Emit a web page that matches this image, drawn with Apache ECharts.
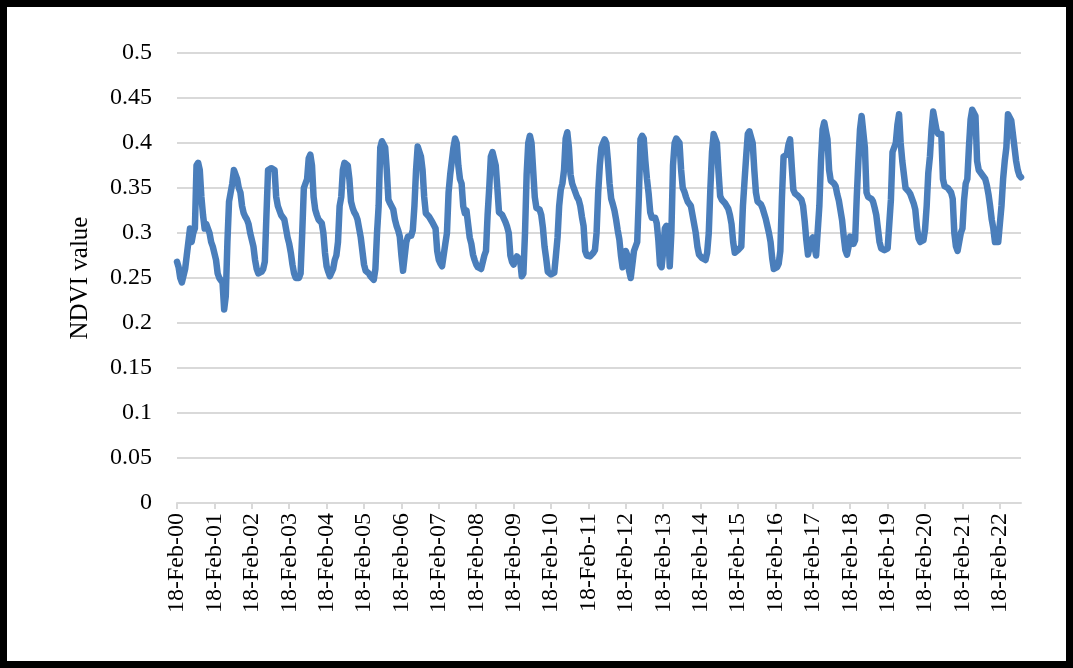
<!DOCTYPE html>
<html><head><meta charset="utf-8">
<script src="https://cdn.jsdelivr.net/npm/echarts@6/dist/echarts.min.js"></script>
<style>html,body{margin:0;padding:0;background:#fff}#c{width:1073px;height:668px}</style>
</head><body><div id="c"></div>
<script>
// NDVI values, 16-day composites, one array per year starting at 18-Feb
const ndvi2000 = [.268,.262,.25,.245,.243,.26,.275,.29,.305,.29,.30,.305,.375,.378,.37,.34,.32,.305,.31,.305,.30,.29,.285];
const ndvi2001 = [.283,.27,.255,.25,.248,.245,.215,.23,.29,.335,.345,.355,.37,.37,.36,.35,.345,.33,.322,.318,.315,.31,.30];
const ndvi2002 = [.30,.285,.27,.26,.255,.255,.257,.26,.268,.32,.37,.372,.372,.372,.37,.34,.33,.325,.32,.318,.315,.305,.295];
const ndvi2003 = [.288,.278,.265,.255,.25,.248,.25,.255,.30,.35,.355,.36,.383,.387,.375,.34,.326,.32,.315,.313,.311,.30,.278];
const ndvi2004 = [.263,.257,.252,.252,.26,.27,.275,.29,.33,.34,.37,.378,.38,.375,.36,.335,.328,.323,.32,.315,.305,.295,.28];
const ndvi2005 = [.265,.258,.257,.255,.252,.25,.248,.26,.30,.33,.395,.402,.402,.395,.37,.337,.333,.332,.326,.315,.308,.303,.296];
const ndvi2006 = [.275,.258,.26,.29,.296,.297,.297,.303,.33,.37,.396,.395,.385,.37,.34,.322,.32,.318,.315,.312,.31,.305,.28];
const ndvi2007 = [.27,.266,.263,.265,.288,.30,.345,.365,.38,.395,.405,.40,.375,.36,.355,.33,.322,.325,.31,.295,.288,.276,.27];
const ndvi2008 = [.265,.262,.26,.26,.26,.275,.28,.32,.35,.385,.39,.388,.375,.35,.323,.322,.32,.318,.312,.307,.30,.275,.268];
const ndvi2009 = [.265,.267,.274,.275,.27,.252,.255,.30,.365,.40,.408,.40,.37,.34,.328,.326,.326,.32,.306,.285,.272,.257,.255];
const ndvi2010 = [.254,.254,.256,.275,.295,.33,.348,.355,.37,.405,.412,.395,.365,.355,.35,.348,.34,.337,.33,.318,.308,.28,.275];
const ndvi2011 = [.273,.274,.275,.278,.281,.30,.345,.375,.395,.40,.404,.40,.38,.355,.338,.332,.325,.315,.303,.293,.275,.262,.265];
const ndvi2012 = [.28,.275,.258,.25,.25,.28,.285,.29,.34,.404,.408,.405,.38,.36,.344,.323,.317,.318,.317,.311,.292,.265,.262];
const ndvi2013 = [.28,.305,.308,.305,.263,.30,.375,.40,.405,.407,.40,.37,.35,.346,.34,.335,.333,.33,.32,.31,.30,.285,.276];
const ndvi2014 = [.274,.272,.27,.27,.278,.30,.35,.39,.41,.41,.40,.368,.341,.337,.336,.333,.33,.327,.32,.31,.29,.278,.278];
const ndvi2015 = [.281,.283,.285,.33,.358,.385,.41,.413,.413,.40,.37,.345,.335,.333,.332,.328,.322,.316,.308,.30,.29,.272,.26];
const ndvi2016 = [.259,.262,.266,.28,.34,.385,.386,.387,.398,.404,.375,.348,.344,.342,.341,.339,.337,.33,.313,.292,.276,.276,.292];
const ndvi2017 = [.295,.285,.275,.276,.33,.38,.415,.423,.424,.404,.37,.358,.356,.355,.352,.343,.336,.325,.314,.296,.281,.276,.285];
const ndvi2018 = [.296,.292,.288,.292,.34,.38,.415,.43,.43,.395,.345,.34,.34,.338,.335,.328,.32,.305,.29,.283,.281,.281,.282];
const ndvi2019 = [.283,.31,.337,.39,.392,.40,.42,.432,.40,.38,.365,.35,.348,.346,.343,.341,.333,.326,.307,.294,.29,.29,.292];
const ndvi2020 = [.304,.33,.367,.385,.415,.435,.435,.415,.41,.412,.41,.36,.352,.35,.35,.348,.345,.338,.30,.285,.28,.29,.30];
const ndvi2021 = [.305,.337,.355,.36,.396,.426,.437,.437,.43,.38,.37,.368,.365,.363,.36,.353,.343,.33,.315,.305,.29,.29,.29];
const ndvi2022 = [.29,.33,.36,.38,.395,.432,.432,.425,.41,.395,.38,.37,.364,.362];

const values = [].concat(ndvi2000, ndvi2001, ndvi2002, ndvi2003, ndvi2004, ndvi2005, ndvi2006, ndvi2007,
  ndvi2008, ndvi2009, ndvi2010, ndvi2011, ndvi2012, ndvi2013, ndvi2014, ndvi2015, ndvi2016, ndvi2017,
  ndvi2018, ndvi2019, ndvi2020, ndvi2021, ndvi2022);

const months = ['Jan','Feb','Mar','Apr','May','Jun','Jul','Aug','Sep','Oct','Nov','Dec'];
// category dates: MODIS 16-day composite start days (DOY 1, 17, ..., 353), from 18-Feb-2000
const categories = [];
for (let y = 2000; categories.length < values.length; y++) {
  for (let doy = 1; doy <= 353 && categories.length < values.length; doy += 16) {
    if (y === 2000 && doy < 49) continue;
    const d = new Date(Date.UTC(y, 0, doy));
    categories.push(d.getUTCDate() + '-' + months[d.getUTCMonth()] + '-' + String(y).slice(2));
  }
}

const font = '"Liberation Serif", "Times New Roman", serif';
const chart = echarts.init(document.getElementById('c'), null, {renderer: 'canvas'});
chart.setOption({
  animation: false,
  backgroundColor: '#fff',
  grid: {left: 177, right: 52, top: 53, bottom: 165},
  graphic: [{
    type: 'rect', shape: {x: 3.5, y: 3.5, width: 1066, height: 661},
    style: {fill: 'none', stroke: '#000', lineWidth: 7}, z: 100
  }],
  xAxis: {
    type: 'category', data: categories, boundaryGap: false,
    axisLine: {lineStyle: {color: '#d9d9d9', width: 2}},
    axisTick: {show: true, interval: 22, length: 6, lineStyle: {color: '#d9d9d9', width: 2}},
    axisLabel: {interval: 22, rotate: 90, margin: 10, color: '#000', fontFamily: font, fontSize: 24},
    splitLine: {show: false}
  },
  yAxis: {
    type: 'value', min: 0, max: 0.5, interval: 0.05,
    name: 'NDVI value', nameLocation: 'middle', nameGap: 84,
    nameTextStyle: {color: '#000', fontFamily: font, fontSize: 25},
    axisLine: {show: false}, axisTick: {show: false},
    axisLabel: {color: '#000', fontFamily: font, fontSize: 24, margin: 25,
      formatter: v => String(Math.round(v * 100) / 100)},
    splitLine: {lineStyle: {color: '#d9d9d9', width: 2}}
  },
  series: [{
    type: 'line', data: values, showSymbol: false, symbol: 'none',
    lineStyle: {color: '#4a7ebb', width: 6.5, join: 'round', cap: 'round'},
    itemStyle: {color: '#4a7ebb'}
  }]
});
</script></body></html>
